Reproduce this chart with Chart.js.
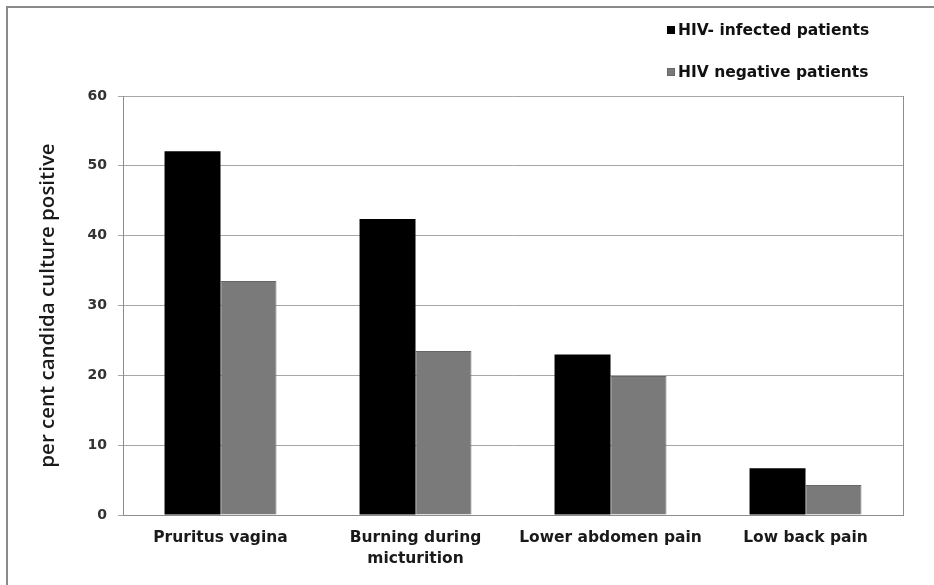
<!DOCTYPE html>
<html>
<head>
<meta charset="utf-8">
<script src="https://cdn.jsdelivr.net/npm/chart.js@4.4.1/dist/chart.umd.min.js"></script>
<style>
    html, body { margin: 0; padding: 0; background: #fff; overflow: hidden; }
    #wrap { position: relative; width: 934px; height: 585px; }
    #frame {
        position: absolute; left: 6px; top: 6px; width: 1000px; height: 1000px;
        border-left: 2px solid #8a8a8a; border-top: 2px solid #8a8a8a;
    }
    #legend {
        position: absolute; left: 667px; top: 19px;
        font: bold 15.5px "DejaVu Sans", sans-serif; color: #111;
    }
    #legend .item { height: 22px; line-height: 22px; margin-bottom: 20px; white-space: nowrap; }
    #legend .box { display: inline-block; width: 8px; height: 8px; margin-right: 3px; vertical-align: 1px; }
    canvas { position: absolute; left: 0; top: 0; }
</style>
</head>
<body>
<div id="wrap">
    <div id="frame"></div>
    <canvas id="chart" width="934" height="585"></canvas>
    <div id="legend"></div>
</div>
<script>
    // data
    const categories = ["Pruritus vagina", ["Burning during", "micturition"], "Lower abdomen pain", "Low back pain"];
    const seriesNames = ["HIV- infected patients", "HIV negative patients"];
    const hivInfected = [52.1, 42.4, 23.0, 6.7];
    const hivNegative = [33.5, 23.5, 19.9, 4.3];
    const yTicks = [0, 10, 20, 30, 40, 50, 60];

    const barColors = ["#000000", "#7a7a7a"];

    // right edge of the plot box
    const plotBorder = {
        id: 'plotBorder',
        afterDraw(chart) {
            const a = chart.chartArea;
            const ctx = chart.ctx;
            ctx.save();
            ctx.strokeStyle = '#8c8c8c';
            ctx.lineWidth = 1;
            ctx.beginPath();
            ctx.moveTo(a.right + 0.5, a.top);
            ctx.lineTo(a.right + 0.5, a.bottom);
            ctx.stroke();
            ctx.restore();
        }
    };

    const ctx = document.getElementById('chart').getContext('2d');
    const chart = new Chart(ctx, {
        type: 'bar',
        data: {
            labels: categories,
            datasets: [{
                label: seriesNames[0],
                data: hivInfected,
                backgroundColor: barColors[0],
                borderColor: '#000',
                borderWidth: 0,
                categoryPercentage: 0.574,
                barPercentage: 1.0
            }, {
                label: seriesNames[1],
                data: hivNegative,
                backgroundColor: barColors[1],
                borderColor: '#666',
                borderWidth: 1,
                categoryPercentage: 0.574,
                barPercentage: 1.0
            }]
        },
        options: {
            responsive: false,
            animation: false,
            layout: { padding: { left: 0, top: 96, right: 31, bottom: 0 } },
            plugins: {
                legend: { display: false },
                tooltip: { enabled: false }
            },
            scales: {
                x: {
                    grid: { display: false },
                    border: { display: true, color: '#8c8c8c', width: 1 },
                    ticks: {
                        color: '#1a1a1a',
                        padding: 5,
                        maxRotation: 0,
                        autoSkip: false,
                        font: { family: 'DejaVu Sans', weight: 'bold', size: 15.5, lineHeight: 1.35 }
                    },
                    afterFit: (scale) => { scale.height = 70; }
                },
                y: {
                    min: 0,
                    max: 60,
                    afterBuildTicks: (scale) => { scale.ticks = yTicks.map(v => ({ value: v })); },
                    grid: { color: '#a6a6a6', lineWidth: 1, tickLength: 5, drawTicks: true },
                    border: { display: true, color: '#8c8c8c', width: 1 },
                    ticks: {
                        color: '#333',
                        padding: 11,
                        font: { family: 'DejaVu Sans', weight: 'bold', size: 14 }
                    },
                    title: {
                        display: true,
                        text: 'per cent candida culture positive',
                        color: '#1a1a1a',
                        padding: { top: 36, bottom: 0 },
                        font: { family: 'Open Sans', weight: '600', size: 20.5 }
                    },
                    afterFit: (scale) => { scale.width = 123; }
                }
            }
        },
        plugins: [plotBorder]
    });

    // legend built from the datasets
    const legend = document.getElementById('legend');
    chart.data.datasets.forEach(ds => {
        const item = document.createElement('div');
        item.className = 'item';
        const box = document.createElement('span');
        box.className = 'box';
        box.style.background = ds.backgroundColor;
        if (ds.borderWidth) {
            box.style.border = '1px solid ' + ds.borderColor;
            box.style.width = '6px';
            box.style.height = '6px';
        }
        item.appendChild(box);
        item.appendChild(document.createTextNode(ds.label));
        legend.appendChild(item);
    });
</script>
</body>
</html>
